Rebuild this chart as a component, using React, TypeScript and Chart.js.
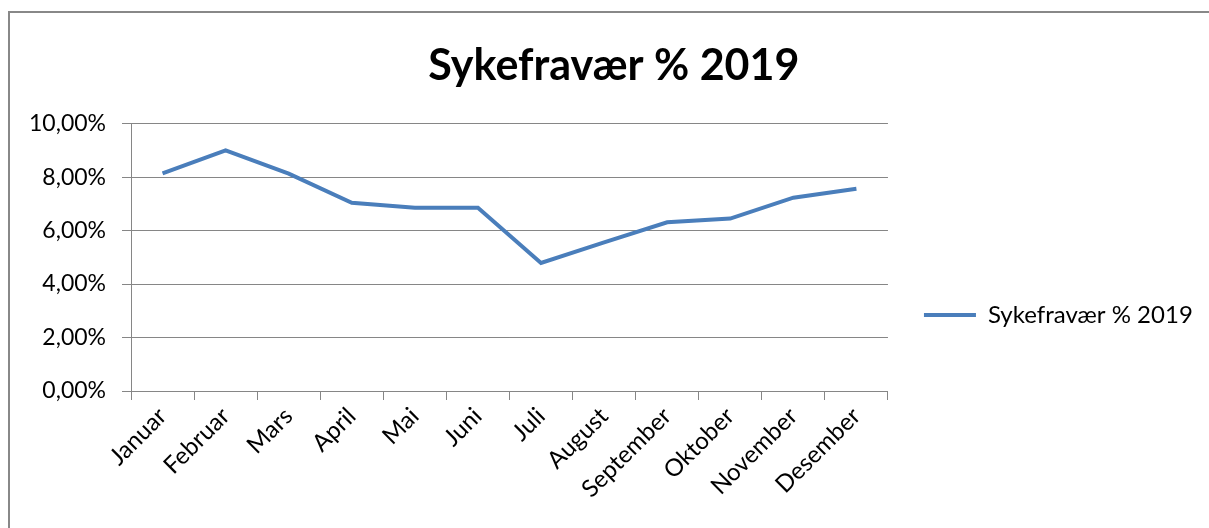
import React, { useEffect, useRef } from 'react';
import { Chart, registerables } from 'chart.js';

Chart.register(...registerables);

const months = ['Januar', 'Februar', 'Mars', 'April', 'Mai', 'Juni', 'Juli', 'August', 'September', 'Oktober', 'November', 'Desember'];
const sickLeave2019 = [8.14, 9.0, 8.13, 7.04, 6.85, 6.85, 4.79, 5.56, 6.31, 6.45, 7.23, 7.56];
const yTickValues = [0, 2, 4, 6, 8, 10];
const seriesLabel = 'Sykefravær % 2019';
const chartTitle = 'Sykefravær % 2019';

const GRID = '#868686';
const LINE = '#4A7EBB';
const FONT = 'Lato';

export default function App() {
  const ref = useRef<HTMLCanvasElement | null>(null);

  useEffect(() => {
    if (!ref.current) return;
    const chart = new Chart(ref.current, {
      type: 'line',
      data: {
        labels: months,
        datasets: [
          {
            label: seriesLabel,
            data: sickLeave2019,
            borderColor: LINE,
            backgroundColor: LINE,
            borderWidth: 4,
            pointRadius: 0,
            tension: 0,
            fill: false,
          },
        ],
      },
      options: {
        animation: false,
        responsive: false,
        devicePixelRatio: 1,
        layout: { padding: { left: 25, right: 6.2, top: 0, bottom: 22.5 } },
        plugins: {
          tooltip: { enabled: false },
          title: {
            display: true,
            text: chartTitle,
            color: '#000',
            font: { family: FONT, size: 43, weight: 'bold', lineHeight: 1.2 },
            padding: { top: 40, bottom: 32 },
          },
          legend: {
            position: 'right',
            align: 'start',
            maxWidth: 420,
            title: { display: true, text: '', font: { size: 10, lineHeight: 1 }, padding: { top: 257, bottom: 0 } },
            labels: {
              color: '#000',
              font: { family: FONT, size: 24 },
              usePointStyle: true,
              pointStyle: 'line',
              pointStyleWidth: 52,
              padding: 36,
            },
          },
        },
        scales: {
          x: {
            type: 'category',
            offset: true,
            grid: { offset: true, drawOnChartArea: false, color: GRID, tickLength: 9, lineWidth: 1 },
            border: { display: true, color: GRID, width: 1 },
            ticks: {
              color: '#000',
              font: { family: FONT, size: 24 },
              minRotation: 45,
              maxRotation: 45,
              autoSkip: false,
              padding: 2,
            },
          },
          y: {
            min: yTickValues[0],
            max: yTickValues[yTickValues.length - 1],
            afterFit: (scale: any) => {
              scale.width = 106;
            },
            grid: { color: GRID, tickLength: 9, lineWidth: 1 },
            border: { display: true, color: GRID, width: 1 },
            ticks: {
              stepSize: yTickValues[1] - yTickValues[0],
              color: '#000',
              font: { family: FONT, size: 23 },
              padding: 16,
              callback: (v: any) => Number(v).toFixed(2).replace('.', ',') + '%',
            },
          },
        },
      },
    });
    return () => chart.destroy();
  }, []);

  return (
    <div style={{ position: 'fixed', left: 0, top: 0, width: 1209, height: 528, overflow: 'hidden', background: '#fff' }}>
      <div
        style={{
          position: 'absolute',
          left: 8,
          top: 11,
          width: 1400,
          height: 800,
          borderLeft: '2px solid #888888',
          borderTop: '2px solid #888888',
        }}
      />
      <canvas ref={ref} width={1209} height={528} style={{ position: 'absolute', left: 0, top: 0, width: 1209, height: 528 }} />
    </div>
  );
}
